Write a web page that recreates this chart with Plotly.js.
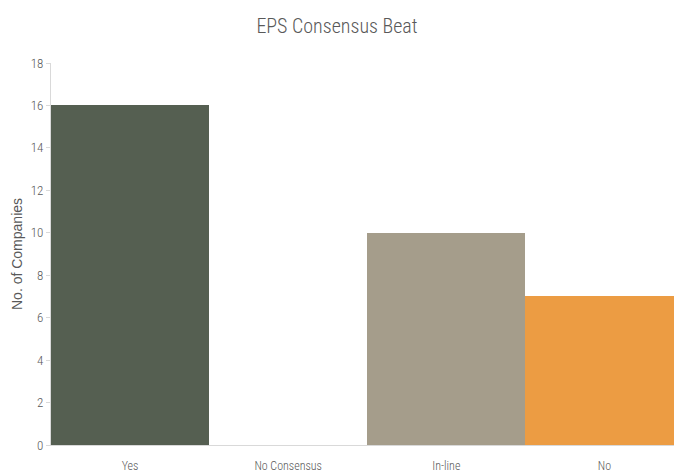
<!DOCTYPE html>
<html><head><meta charset="utf-8">
<script src="https://cdn.plot.ly/plotly-3.0.1.min.js"></script>
<style>html,body{margin:0;padding:0;background:#fff}</style>
</head><body>
<div id="chart" style="width:674px;height:475px"></div>
<script>
var categories = ["Yes", "No Consensus", "In-line", "No"];
var companies = [16, 0, 10, 7];
var barColors = ["#555f51", "#ffffff", "#a59d8b", "#ec9c43"];
var yTicks = [0, 2, 4, 6, 8, 10, 12, 14, 16, 18];

var condensed = "'Roboto Condensed', 'Liberation Sans Narrow', 'Roboto', sans-serif";
var data = [{
  type: "bar",
  x: categories,
  y: companies,
  marker: {color: barColors, line: {width: 0}},
  hoverinfo: "x+y"
}];
var layout = {
  width: 674, height: 475,
  margin: {l: 51, r: 0, t: 63, b: 30},
  paper_bgcolor: "#ffffff", plot_bgcolor: "#ffffff",
  bargap: 0,
  showlegend: false,
  title: {text: "EPS Consensus Beat", font: {family: condensed, size: 20, weight: 300, color: "#595959"}, x: 0.5, xanchor: "center", y: 0.945, yanchor: "middle"},
  xaxis: {
    type: "category",
    range: [-0.5, 3.44],
    showline: true, linecolor: "#d9d9d9", linewidth: 1,
    ticks: "", showgrid: false,
    ticklabelstandoff: 10,
    tickfont: {family: condensed, size: 12, weight: 300, color: "#595959"},
    fixedrange: true
  },
  yaxis: {
    range: [0, 18],
    tickvals: yTicks,
    showline: true, linecolor: "#d9d9d9", linewidth: 1,
    ticks: "outside", ticklen: 4, tickcolor: "#d9d9d9",
    showgrid: false, zeroline: false,
    tickfont: {family: condensed, size: 13, weight: 300, color: "#595959"},
    title: {text: "No. of Companies", font: {family: "'Liberation Sans', Arial, sans-serif", size: 14, color: "#595959"}, standoff: 4},
    fixedrange: true
  }
};
Plotly.newPlot("chart", data, layout, {displayModeBar: false, staticPlot: true});
</script>
</body></html>
